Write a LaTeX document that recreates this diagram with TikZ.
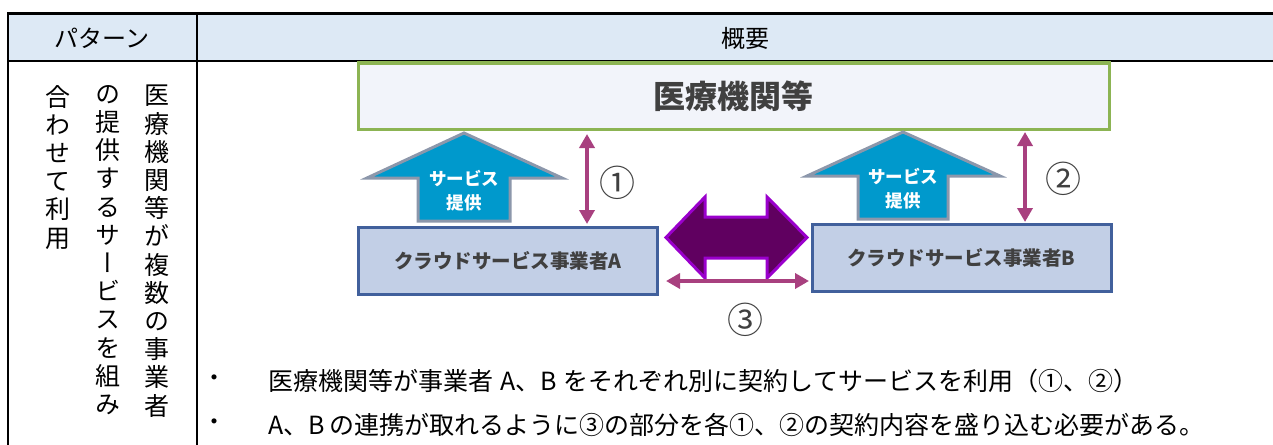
\documentclass[tikz,border=0pt]{standalone}
\usepackage{fontspec}
\setmainfont{Noto Sans CJK JP}
\newfontfamily\jpv[RawFeature=+vert]{Noto Sans CJK JP}
\usetikzlibrary{arrows.meta}
\definecolor{hdr}{HTML}{DDE9F5}
\definecolor{gfill}{HTML}{F2F4FA}
\definecolor{gline}{HTML}{8CB453}
\definecolor{bfill}{HTML}{C2CFE6}
\definecolor{bline}{HTML}{41609C}
\definecolor{afill}{HTML}{0099CC}
\definecolor{aline}{HTML}{8C97AB}
\definecolor{plum}{HTML}{A8407F}
\definecolor{pfill}{HTML}{600060}
\definecolor{pline}{HTML}{9A00CC}
\definecolor{dgray}{HTML}{404040}
\tikzset{
  rule/.style={line width=2pt,black},
  thickrule/.style={line width=3pt,black},
  orgbox/.style={draw=gline,fill=gfill,line width=3pt,minimum width=751pt,minimum height=66pt,inner sep=0pt,
    text=dgray,font=\fontsize{32}{38}\selectfont\bfseries},
  provbox/.style={draw=bline,fill=bfill,line width=3pt,minimum width=299pt,minimum height=67pt,inner sep=0pt,
    text=dgray,font=\fontsize{19.5}{24}\selectfont\bfseries},
  blockarrow/.style={fill=afill,draw=aline,line width=3pt,line join=miter},
  svclabel/.style={text=white,align=center,font=\fontsize{17.5}{24}\selectfont\bfseries,inner sep=0pt},
  contract/.style={draw=plum,line width=4pt,{Triangle[length=14pt,width=15pt]}-{Triangle[length=14pt,width=15pt]}},
  circnum/.style={font=\fontsize{36}{40}\selectfont,text=dgray,inner sep=0pt},
  vcol/.style={anchor=north,align=center,inner sep=0pt,font=\fontsize{25}{28.2}\jpv},
  bullettext/.style={anchor=west,inner sep=0pt,font=\fontsize{25}{30}\selectfont},
  hdrtext/.style={inner sep=0pt,font=\fontsize{24}{28}\selectfont},
}
\begin{document}
\begin{tikzpicture}[x=1pt,y=-1pt]
\useasboundingbox (0,0) rectangle (1273,444);
\begin{scope}
\clip (0,0) rectangle (1273,444);
% table
\fill[hdr] (8,14) rectangle (1280,61);
\draw[thickrule] (7,14) -- (1280,14);
\draw[rule] (7,61) -- (1280,61);
\draw[rule] (8,13) -- (8,450);
\draw[rule] (197,13) -- (197,450);
\node[hdrtext] (h1) at (102,38) {パターン};
\node[hdrtext] (h2) at (745,38) {概要};
% left column vertical text
\node[vcol] (v1) at (157,85) {医\\療\\機\\関\\等\\が\\複\\数\\の\\事\\業\\者};
\node[vcol] (v2) at (108,85) {の\\提\\供\\す\\る\\サ\\ー\\ビ\\ス\\を\\組\\み};
\node[vcol] (v3) at (58,85) {合\\わ\\せ\\て\\利\\用};
% diagram
\node[orgbox] (org) at (733.5,96) {医療機関等};
\node[provbox] (pa) at (508,260.5) {クラウドサービス事業者A};
\node[provbox] (pb) at (961.5,257.5) {クラウドサービス事業者B};
% service arrows
\draw[blockarrow] (464,133) -- (562,178) -- (510,178) -- (510,221) -- (418,221) -- (418,178) -- (367,178) -- cycle;
\node[svclabel] (sa) at (464,191) {サービス\\提供};
\draw[blockarrow] (903,132) -- (1000,176) -- (948,176) -- (948,219) -- (858,219) -- (858,176) -- (807,176) -- cycle;
\node[svclabel] (sb) at (903,189) {サービス\\提供};
% big purple double arrow
\draw[fill=pfill,draw=pline,line width=3pt,line join=miter]
  (666,237.5) -- (705,197) -- (705,217) -- (767,217) -- (767,197) -- (807,237.5)
  -- (767,278) -- (767,258) -- (705,258) -- (705,278) -- cycle;
% contract arrows
\coordinate (c1t) at (587,134);
\coordinate (c1b) at (587,224);
\coordinate (c2t) at (1025,132);
\coordinate (c2b) at (1025,222);
\coordinate (c3l) at (666,281);
\coordinate (c3r) at (809,281);
\draw[contract] (c1t) -- (c1b);
\draw[contract] (c2t) -- (c2b);
\draw[contract] (c3l) -- (c3r);
\node[circnum] (n1) at (617,183) {①};
\node[circnum] (n2) at (1063,179) {②};
\node[circnum] (n3) at (745,320) {③};
% bullets
\node[inner sep=0pt,font=\fontsize{24}{28}\selectfont] (b1) at (214,381) {・};
\node[inner sep=0pt,font=\fontsize{24}{28}\selectfont] (b2) at (214,425) {・};
\node[bullettext] (t1) at (268,381) {医療機関等が事業者\hspace{7pt}A、B\hspace{7pt}をそれぞれ別に契約してサービスを利用（①、②）};
\node[bullettext] (t2) at (268,425) {A、B\hspace{5pt}の連携が取れるように③の部分を各①、②の契約内容を盛り込む必要がある。};
\end{scope}
\end{tikzpicture}
\end{document}
